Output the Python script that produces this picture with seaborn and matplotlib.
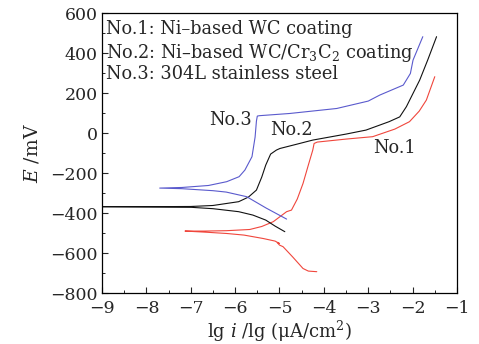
import matplotlib
matplotlib.use("Agg")
import matplotlib.pyplot as plt
import seaborn as sns
import pandas as pd
from matplotlib.ticker import MultipleLocator

# ---- data ----
# No.1: Ni-based WC coating (red) - cathodic end -> Ecorr -> anodic end
no1_lgi = [-4.16, -4.35, -4.47, -4.7, -4.92, -5.0, -5.05, -5.0, -5.1, -5.37, -5.8, -6.19, -6.7, -7.13,
           -6.7, -6.19, -5.67, -5.4, -5.14, -4.84, -4.73, -4.6, -4.47, -4.35, -4.25, -4.22, -4.15,
           -3.5, -2.9, -2.4, -2.07, -1.85, -1.69, -1.5]
no1_E = [-693, -690, -677, -620, -568, -560, -548, -552, -540, -527, -510, -502, -495, -490,
         -490, -488, -482, -467, -443, -393, -385, -330, -252, -160, -85, -52, -45,
         -30, -18, 20, 57, 110, 165, 282]

# No.2: Ni-based WC/Cr3C2 coating (black)
no2_lgi = [-4.88, -5.1, -5.31, -5.6, -5.92, -6.5, -7.0, -8.0, -9.0,
           -8.0, -7.0, -6.5, -5.92, -5.7, -5.52, -5.4, -5.31, -5.2, -5.07, -4.99, -4.6, -4.25,
           -3.5, -3.05, -2.53, -2.29, -2.14, -1.84, -1.66, -1.46]
no2_E = [-493, -465, -435, -410, -393, -378, -371, -369, -368,
         -368, -367, -362, -343, -320, -285, -220, -160, -105, -85, -77, -55, -35,
         -5, 15, 57, 81, 132, 265, 365, 482]

# No.3: 304L stainless steel (blue)
no3_lgi = [-4.84, -5.3, -5.74, -6.2, -6.5, -7.2, -7.7,
           -7.2, -6.6, -6.19, -5.91, -5.78, -5.62, -5.55, -5.52, -5.5, -5.45,
           -4.77, -3.71, -3.0, -2.74, -2.21, -2.05, -1.99, -1.77]
no3_E = [-430, -375, -318, -295, -288, -278, -275,
         -272, -262, -243, -218, -185, -118, -20, 60, 85, 87,
         98, 123, 160, 190, 240, 298, 365, 482]

legend_lines = ["No.1: Ni\u2013based WC coating",
                "No.2: Ni\u2013based WC/Cr$_3$C$_2$ coating",
                "No.3: 304L stainless steel"]
curve_labels = ["No.1", "No.2", "No.3"]
label_pos_x = [-2.4, -4.74, -6.1]
label_pos_y = [-75, 15, 65]
colors = ["#f0463c", "#111111", "#5a5acd"]

x_ticks = [-9, -8, -7, -6, -5, -4, -3, -2, -1]
y_ticks = [-800, -600, -400, -200, 0, 200, 400, 600]

frames = []
for name, xs, ys in [("No.1", no1_lgi, no1_E), ("No.2", no2_lgi, no2_E), ("No.3", no3_lgi, no3_E)]:
    frames.append(pd.DataFrame({"lgi": xs, "E": ys, "sample": name, "order": range(len(xs))}))
df = pd.concat(frames, ignore_index=True)

sns.set_style("white")
plt.rcParams["font.family"] = ["DejaVu Serif"]
plt.rcParams["mathtext.fontset"] = "dejavuserif"

fig = plt.figure(figsize=(4.79, 3.44), dpi=100)
ax = fig.add_axes([0.213, 0.148, 0.741, 0.814])

sns.lineplot(data=df, x="lgi", y="E", hue="sample", palette=dict(zip(curve_labels, colors)),
             sort=False, estimator=None, units="sample", lw=0.8, legend=False, ax=ax)

ax.set_xlim(-9, -1)
ax.set_ylim(-800, 600)
ax.set_xticks(x_ticks)
ax.set_yticks(y_ticks)
ax.xaxis.set_minor_locator(MultipleLocator(0.5))
ax.yaxis.set_minor_locator(MultipleLocator(100))
ax.tick_params(which="major", direction="in", length=4, width=0.8, labelsize=12.5,
               bottom=True, left=True, top=False, right=False)
ax.tick_params(axis="x", which="major", pad=5)
ax.tick_params(axis="y", which="major", pad=3)
ax.tick_params(which="minor", direction="in", length=2.5, width=0.7,
               bottom=True, left=True, top=False, right=False)
for s in ax.spines.values():
    s.set_color("black")
    s.set_linewidth(0.9)

ax.set_xlabel("lg $i$ /lg (\u03bcA/cm$^2$)", fontsize=13, labelpad=1)
ax.set_ylabel("$E$ /mV", fontsize=13.5, labelpad=6)

for i, t in enumerate(legend_lines):
    ax.text(0.012, 0.975 - i * 0.08, t, transform=ax.transAxes, fontsize=12.8,
            va="top", ha="left")
for lab, lx, ly in zip(curve_labels, label_pos_x, label_pos_y):
    ax.text(lx, ly, lab, fontsize=12.8, ha="center", va="center")

fig.savefig("out.png", dpi=100)
